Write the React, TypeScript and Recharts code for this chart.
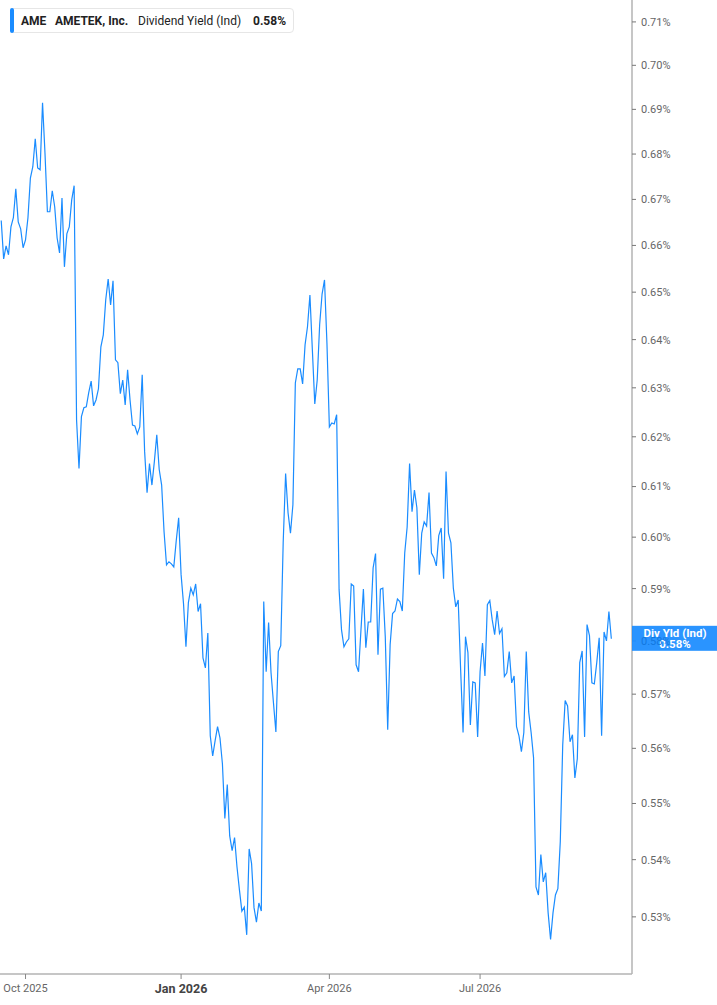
import React from 'react';
import { LineChart, Line, XAxis, YAxis, ReferenceLine } from 'recharts';

// one value per trading day, % dividend yield (indicated)
const yieldValues = [
  0.6654, 0.6571, 0.6599, 0.658, 0.664, 0.666, 0.6723, 0.6651, 0.6636, 0.6595,
  0.6612, 0.666, 0.6747, 0.6772, 0.6834, 0.6769, 0.6765, 0.6915, 0.6803, 0.6673,
  0.6673, 0.6719, 0.6684, 0.6616, 0.6584, 0.6703, 0.6554, 0.6625, 0.664, 0.6699,
  0.673, 0.6234, 0.6136, 0.6241, 0.6259, 0.6261, 0.629, 0.6314, 0.6263, 0.6275,
  0.6298, 0.6385, 0.641, 0.6484, 0.6528, 0.6473, 0.6524, 0.6358, 0.6352, 0.6288,
  0.6316, 0.6265, 0.6337, 0.6275, 0.6224, 0.6222, 0.6206, 0.622, 0.6327, 0.617,
  0.6088, 0.6146, 0.6103, 0.615, 0.6204, 0.6134, 0.6103, 0.601, 0.5946, 0.5952,
  0.5948, 0.5942, 0.5993, 0.6038, 0.5927, 0.5871, 0.5789, 0.5873, 0.5901, 0.5888,
  0.5909, 0.5856, 0.5871, 0.5768, 0.5749, 0.5815, 0.5623, 0.5586, 0.5614, 0.564,
  0.5619, 0.5572, 0.5473, 0.5534, 0.5442, 0.5416, 0.5439, 0.5387, 0.5347, 0.531,
  0.5317, 0.5269, 0.5419, 0.5393, 0.5316, 0.5291, 0.5324, 0.531, 0.5875, 0.5742,
  0.5835, 0.574, 0.5684, 0.563, 0.578, 0.5791, 0.5989, 0.6126, 0.6048, 0.6008,
  0.6064, 0.631, 0.6339, 0.6339, 0.6308, 0.6389, 0.6427, 0.6494, 0.6379, 0.6267,
  0.6316, 0.6431, 0.6496, 0.6526, 0.6393, 0.622, 0.6228, 0.6226, 0.6245, 0.5898,
  0.5821, 0.5789, 0.5798, 0.5804, 0.5909, 0.5905, 0.5755, 0.5742, 0.5821, 0.5899,
  0.5787, 0.5836, 0.5836, 0.594, 0.5968, 0.5774, 0.5899, 0.5901, 0.5808, 0.5634,
  0.5793, 0.5852, 0.5857, 0.588, 0.5875, 0.5857, 0.5969, 0.602, 0.6146, 0.605,
  0.6093, 0.6058, 0.5927, 0.6008, 0.603, 0.6022, 0.6088, 0.5969, 0.596, 0.5944,
  0.6003, 0.6018, 0.5919, 0.613, 0.6008, 0.5989, 0.5901, 0.5865, 0.5878, 0.5746,
  0.5629, 0.5808, 0.5778, 0.5643, 0.5723, 0.5721, 0.5621, 0.5742, 0.5796, 0.5734,
  0.5869, 0.5877, 0.584, 0.5812, 0.5857, 0.5814, 0.5823, 0.5733, 0.574, 0.578,
  0.5721, 0.5734, 0.564, 0.5623, 0.5594, 0.5629, 0.578, 0.5667, 0.5629, 0.5583,
  0.5352, 0.5338, 0.5409, 0.5361, 0.5377, 0.5307, 0.5261, 0.5307, 0.5338, 0.5349,
  0.5432, 0.5606, 0.5688, 0.5678, 0.5612, 0.5625, 0.5546, 0.5581, 0.5759, 0.5781,
  0.5621, 0.5831, 0.581, 0.5721, 0.5719, 0.5759, 0.5806, 0.5623, 0.5817, 0.58,
  0.5856, 0.5804,
];

// trading-day index of the first session of each labelled month
const monthTickIndex = [10, 74, 135, 197];
const monthTickLabels = ['Oct 2025', 'Jan 2026', 'Apr 2026', 'Jul 2026'];

const yTicks = [
  0.53, 0.54, 0.55, 0.56, 0.57, 0.58, 0.59, 0.6, 0.61, 0.62,
  0.63, 0.64, 0.65, 0.66, 0.67, 0.68, 0.69, 0.7, 0.71,
];

const BLUE = '#1a8cff';
const FONT = 'Roboto, "Noto Sans", sans-serif';

const data = yieldValues.map((value, day) => ({ day, value }));
const lastValue = yieldValues[yieldValues.length - 1];

const MonthTick = (props: any) => {
  const { x, y, payload } = props;
  const idx = monthTickIndex.indexOf(payload.value);
  const label = monthTickLabels[idx] ?? '';
  const isYear = label.startsWith('Jan');
  return (
    <text
      x={x}
      y={y}
      dy={isYear ? 12 : 11}
      textAnchor="middle"
      fill={isYear ? '#444' : '#666'}
      fontSize={isYear ? 12.5 : 11}
      fontWeight={isYear ? 700 : 400}
      fontFamily={FONT}
    >
      {label}
    </text>
  );
};

// the 0.58% tick sits under the last-value tag, so it is drawn tinted as if seen through it
const YTick = (props: any) => {
  const { x, y, payload } = props;
  const hidden = Math.abs(payload.value - lastValue) < 0.003;
  return (
    <text
      x={x}
      y={y}
      dy="0.355em"
      textAnchor="start"
      fill={hidden ? '#1278e0' : '#666'}
      fontSize={11}
      fontFamily={FONT}
    >
      {`${payload.value.toFixed(2)}%`}
    </text>
  );
};

const LastValueTag = (props: any) => {
  const { viewBox } = props;
  if (!viewBox) return null;
  const x = viewBox.x + viewBox.width;
  const y = viewBox.y;
  return (
    <g>
      <rect x={x} y={y - 13} width={85} height={25} fill={BLUE} fillOpacity={0.93} />
      <text x={x + 43} y={y - 2} textAnchor="middle" fill="#fff" fontSize={11.5} fontWeight={700} fontFamily={FONT}>
        Div Yld (Ind)
      </text>
      <text x={x + 43} y={y + 9} textAnchor="middle" fill="#fff" fontSize={11.5} fontWeight={700} fontFamily={FONT}>
        {lastValue.toFixed(2)}%
      </text>
    </g>
  );
};

export default function App() {
  return (
    <div style={{ position: 'absolute', left: 0, top: 0, width: 717, height: 1005, background: '#fff' }}>
      <LineChart width={717} height={1005} data={data} margin={{ top: 0, right: 0, left: 0, bottom: 0 }}>
        <XAxis
          type="number"
          dataKey="day"
          domain={[-0.5, 259.5]}
          allowDataOverflow
          ticks={monthTickIndex}
          tick={<MonthTick />}
          height={31}
          stroke="#b3b3b3"
          strokeWidth={1.5}
          tickSize={5}
          tickLine={{ stroke: '#888', strokeWidth: 1 }}
        />
        <YAxis
          orientation="right"
          scale="log"
          domain={[0.5202, 0.7151]}
          allowDataOverflow
          ticks={yTicks}
          width={85}
          stroke="#b3b3b3"
          strokeWidth={1.5}
          tickSize={4}
          tickMargin={5}
          tickLine={{ stroke: '#777', strokeWidth: 1 }}
          tick={<YTick />}
        />
        <Line
          type="linear"
          dataKey="value"
          stroke={BLUE}
          strokeWidth={1.2}
          dot={false}
          activeDot={false}
          isAnimationActive={false}
        />
        <ReferenceLine
          y={lastValue}
          stroke="none"
          ifOverflow="visible"
          zIndex={1000}
          label={{ content: <LastValueTag /> }}
        />
      </LineChart>
      <div
        style={{
          position: 'absolute',
          left: 10,
          top: 8,
          width: 284,
          height: 25,
          boxSizing: 'border-box',
          border: '1px solid #e6e6e6',
          borderRadius: 4,
          background: '#fff',
          fontFamily: FONT,
          fontSize: 12,
          color: '#222',
          display: 'flex',
          alignItems: 'center',
          whiteSpace: 'nowrap',
        }}
      >
        <div style={{ position: 'absolute', left: -1, top: -1, width: 4, height: 25, background: BLUE, borderRadius: 2 }} />
        <span style={{ position: 'absolute', left: 10, fontWeight: 700 }}>AME</span>
        <span style={{ position: 'absolute', left: 44, fontWeight: 700 }}>AMETEK, Inc.</span>
        <span style={{ position: 'absolute', left: 127 }}>Dividend Yield (Ind)</span>
        <span style={{ position: 'absolute', left: 242, fontWeight: 700 }}>{lastValue.toFixed(2)}%</span>
      </div>
    </div>
  );
}
